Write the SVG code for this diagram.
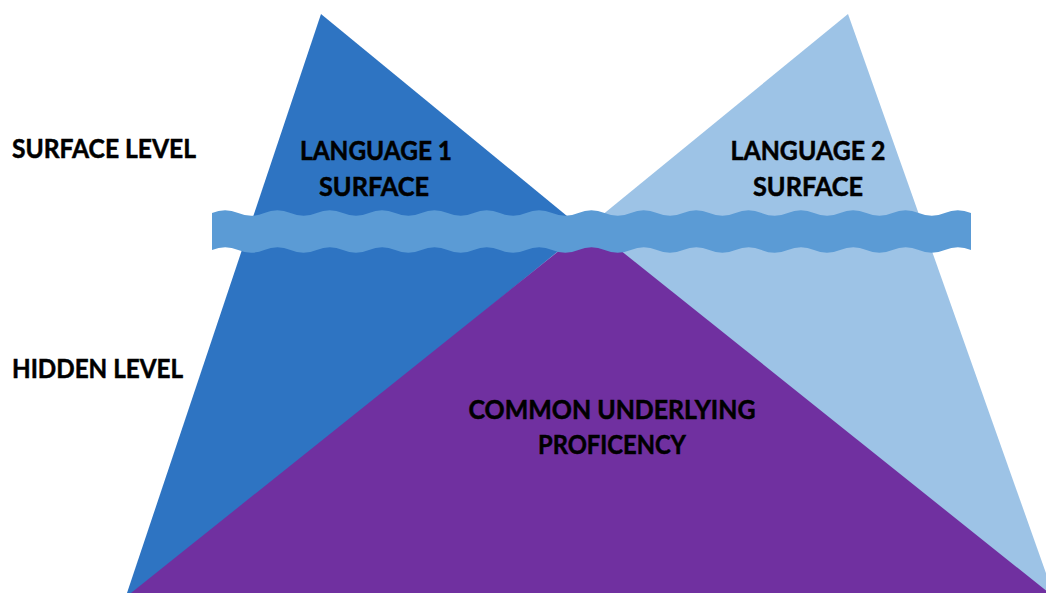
<svg xmlns="http://www.w3.org/2000/svg" width="1046" height="593" viewBox="0 0 1046 593">
  <style>
    .lbl { font-family: Lato, "Liberation Sans", sans-serif; font-weight: bold; font-size: 26px; fill: #000; stroke: #000; stroke-width: 0.5px; }
    .mid { text-anchor: middle; }
  </style>
  <rect width="1046" height="593" fill="#ffffff"/>

  <!-- Language 1 iceberg -->
  <g id="language1">
    <polygon points="321,14 127,593 1026,593" fill="#2E74C2"/>
  </g>

  <!-- Language 2 iceberg -->
  <g id="language2">
    <polygon points="848,14 140,593 1053,593" fill="#9DC3E6"/>
  </g>

  <!-- Shared base -->
  <g id="common">
    <polygon points="590,226 131,593 1049,593" fill="#7030A0"/>
  </g>

  <!-- Waterline -->
  <g id="waterline">
    <path fill="#5B9BD5" d="M212,213 Q225.1,207.5 238.2,213 T264.3,213 T290.5,213 T316.7,213 T342.9,213 T369,213 T395.2,213 T421.4,213 T447.6,213 T473.7,213 T499.9,213 T526.1,213 T552.2,213 T578.4,213 T604.6,213 T630.8,213 T656.9,213 T683.1,213 T709.3,213 T735.5,213 T761.6,213 T787.8,213 T814,213 T840.1,213 T866.3,213 T892.5,213 T918.7,213 T944.8,213 T971,213 L971,250 Q957.9,244.5 944.8,250 T918.7,250 T892.5,250 T866.3,250 T840.1,250 T814,250 T787.8,250 T761.6,250 T735.5,250 T709.3,250 T683.1,250 T656.9,250 T630.8,250 T604.6,250 T578.4,250 T552.2,250 T526.1,250 T499.9,250 T473.7,250 T447.6,250 T421.4,250 T395.2,250 T369,250 T342.9,250 T316.7,250 T290.5,250 T264.3,250 T238.2,250 T212,250 Z"/>
  </g>

  <!-- Labels -->
  <g id="labels">
    <text class="lbl" x="12" y="158" textLength="184" lengthAdjust="spacingAndGlyphs">SURFACE LEVEL</text>
    <text class="lbl" x="12" y="378" textLength="171" lengthAdjust="spacingAndGlyphs">HIDDEN LEVEL</text>
    <text class="lbl mid" x="376" y="160" textLength="152" lengthAdjust="spacingAndGlyphs">LANGUAGE 1</text>
    <text class="lbl mid" x="374" y="196" textLength="110" lengthAdjust="spacingAndGlyphs">SURFACE</text>
    <text class="lbl mid" x="808" y="160" textLength="155" lengthAdjust="spacingAndGlyphs">LANGUAGE 2</text>
    <text class="lbl mid" x="808" y="196" textLength="110" lengthAdjust="spacingAndGlyphs">SURFACE</text>
    <text class="lbl mid" x="612" y="419" textLength="287" lengthAdjust="spacingAndGlyphs">COMMON UNDERLYING</text>
    <text class="lbl mid" x="612" y="454" textLength="148" lengthAdjust="spacingAndGlyphs">PROFICENCY</text>
  </g>
</svg>
